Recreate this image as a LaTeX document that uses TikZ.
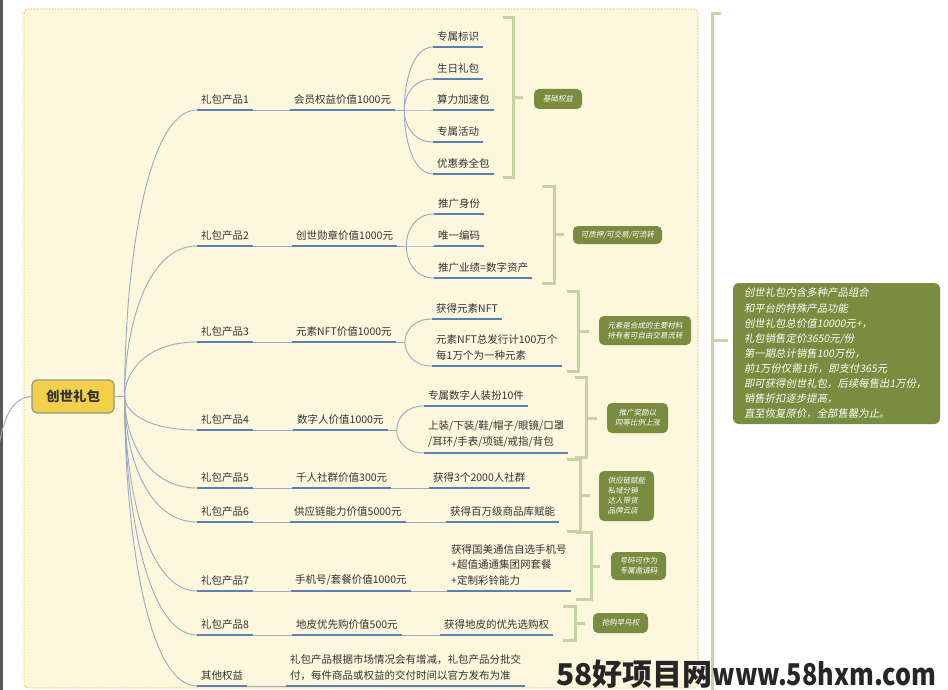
\documentclass[tikz,border=0pt]{standalone}
\usepackage{fontspec}
\usepackage{graphicx}
\setmainfont{Noto Sans CJK SC}
\newfontfamily\slfont{Noto Sans CJK SC}[FakeSlant=0.18]
\usetikzlibrary{calc}
\definecolor{cream}{HTML}{FCF7DD}
\definecolor{dotyel}{HTML}{EDD47E}
\definecolor{ulblue}{HTML}{5C7FB5}
\definecolor{connblue}{HTML}{9AAAC4}
\definecolor{brgreen}{HTML}{C6D3A6}
\definecolor{olive}{HTML}{7A8C3F}
\definecolor{rootgold}{HTML}{F3D04C}
\definecolor{rootedge}{HTML}{8E9A78}
\definecolor{txt}{HTML}{333333}
\newcommand\mmcurve[2]{\draw[conn] (#1) .. controls ($(#1)!0.45!(#1|-#2)$) and ($(#1|-#2)!0.3!(#2)$) .. (#2);}
\begin{document}
\begin{tikzpicture}[x=1pt,y=-1pt,
  lbl/.style={anchor=south west,inner xsep=4pt,inner ysep=5.5pt,text=txt,align=left,
    font=\fontsize{10.5}{15.5}\selectfont},
  ul/.style={draw=ulblue,line width=2.6pt},
  conn/.style={draw=connblue,line width=0.9pt},
  brk/.style={draw=brgreen,line width=3pt},
  gbox/.style={fill=olive,rounded corners=5pt,text=white,align=center,inner sep=2pt,
    font=\slfont\fontsize{7.5}{10}\selectfont},
]
\useasboundingbox (0,0) rectangle (948,690);
\fill[white] (0,0) rectangle (948,690);
\fill[gray!70!black] (0,0) rectangle (2.5,690);
% container
\draw[dotyel,fill=cream,line width=1.3pt,dash pattern=on 1.4pt off 1.6pt,rounded corners=4pt] (24,9) rectangle (698,688);

% root
\node[fill=rootgold,draw=rootedge,line width=1.2pt,rounded corners=5pt,minimum width=82pt,minimum height=33pt,
  text=txt,font=\bfseries\fontsize{13.5}{14}\selectfont] (root) at (73,396.5) {创世礼包};
\coordinate (lin) at (-2,452);
\draw[conn] (lin) .. controls (4,412) and (14,398) .. (root.west);
\draw[conn] (root.east) -- ++(10,0) coordinate (rf);

% level 1
\foreach \n/\y/\t in {p1/110/礼包产品1,p2/246/礼包产品2,p3/342/礼包产品3,p4/430/礼包产品4,
  p5/488/礼包产品5,p6/522/礼包产品6,p7/591/礼包产品7,p8/635/礼包产品8,p9/686/其他权益}
  {\node[lbl] (\n) at (197,\y) {\t};}

% level 2
\node[lbl] (v1) at (290,110) {会员权益价值1000元};
\node[lbl] (v2) at (292,246) {创世勋章价值1000元};
\node[lbl] (v3) at (292,342) {元素NFT价值1000元};
\node[lbl] (v4) at (293,430) {数字人价值1000元};
\node[lbl] (v5) at (292,488) {千人社群价值300元};
\node[lbl] (v6) at (290,522) {供应链能力价值5000元};
\node[lbl] (v7) at (291,591) {手机号/套餐价值1000元};
\node[lbl] (v8) at (292,635) {地皮优先购价值500元};
\node[lbl] (v9) at (286,686) {礼包产品根据市场情况会有增减，礼包产品分批交\\付，每件商品或权益的交付时间以官方发布为准};

% level 3
\node[lbl] (a1) at (433,47) {专属标识};
\node[lbl] (a2) at (433,79) {生日礼包};
\node[lbl] (a3) at (433,110) {算力加速包};
\node[lbl] (a4) at (433,142) {专属活动};
\node[lbl] (a5) at (433,174) {优惠券全包};
\node[lbl] (b1) at (434,214) {推广身份};
\node[lbl] (b2) at (434,246) {唯一编码};
\node[lbl] (b3) at (434,278) {推广业绩=数字资产};
\node[lbl] (c1) at (432,319) {获得元素NFT};
\node[lbl] (c2) at (432,366) {元素NFT总发行计100万个\\每1万个为一种元素};
\node[lbl] (d1) at (424,406) {专属数字人装扮10件};
\node[lbl] (d2) at (424,453) {上装/下装/鞋/帽子/眼镜/口罩\\/耳环/手表/项链/戒指/背包};
\node[lbl] (e1) at (429,488) {获得3个2000人社群};
\node[lbl] (g1) at (446,522) {获得百万级商品库赋能};
\node[lbl] (h1) at (447,591) {获得国美通信自选手机号\\+超值通通集团网套餐\\+定制彩铃能力};
\node[lbl] (k1) at (440,635) {获得地皮的优先选购权};

% connectors root -> level 1
\foreach \n in {p1,p2,p3,p4,p5,p6,p7,p8,p9} {\mmcurve{rf}{\n.south west}}
% level 1 -> level 2
\foreach \i in {1,...,9} {\draw[conn] (p\i.south east) -- (v\i.south west);}
% level 2 -> level 3
\draw[conn] (v1.south east) -- ++(9,0) coordinate (f1);
\foreach \n in {a1,a2,a3,a4,a5} {\mmcurve{f1}{\n.south west}}
\draw[conn] (v2.south east) -- ++(9,0) coordinate (f2);
\foreach \n in {b1,b2,b3} {\mmcurve{f2}{\n.south west}}
\draw[conn] (v3.south east) -- ++(9,0) coordinate (f3);
\foreach \n in {c1,c2} {\mmcurve{f3}{\n.south west}}
\draw[conn] (v4.south east) -- ++(9,0) coordinate (f4);
\foreach \n in {d1,d2} {\mmcurve{f4}{\n.south west}}
\draw[conn] (v5.south east) -- (e1.south west);
\draw[conn] (v6.south east) -- (g1.south west);
\draw[conn] (v7.south east) -- (h1.south west);
\draw[conn] (v8.south east) -- (k1.south west);

% underlines
\foreach \n in {p1,p2,p3,p4,p5,p6,p7,p8,p9,v1,v2,v3,v4,v5,v6,v7,v8,v9,
  a1,a2,a3,a4,a5,b1,b2,b3,c1,c2,d1,d2,e1,g1,h1,k1}
  {\draw[ul] (\n.south west) -- (\n.south east);}

% brackets
\draw[brk] (503,18) -- (513,18) -- (513,178) -- (503,178); \draw[brk] (513,98) -- (523,98);
\draw[brk] (542,186) -- (554,186) -- (554,283) -- (542,283); \draw[brk] (554,234) -- (564,234);
\draw[brk] (567,291) -- (578,291) -- (578,371) -- (567,371); \draw[brk] (578,331) -- (589,331);
\draw[brk] (575,377) -- (586,377) -- (586,457) -- (575,457); \draw[brk] (586,418) -- (597,418);
\draw[brk] (567,459) -- (580,459) -- (580,531) -- (567,531); \draw[brk] (580,495) -- (590,495);
\draw[brk] (576,532) -- (591,532) -- (591,599) -- (576,599); \draw[brk] (591,566) -- (600,566);
\draw[brk] (563,606) -- (575,606) -- (575,640) -- (563,640); \draw[brk] (575,623) -- (585,623);
\draw[brk] (721,14) -- (712,14) -- (712,692); \draw[brk] (712,340) -- (728,340);

% green labels
\node[gbox,minimum width=48pt,minimum height=20pt] (gb1) at (558,99) {基础权益};
\node[gbox,minimum width=89pt,minimum height=18pt] (gb2) at (617.5,235) {可质押/可交易/可流转};
\node[gbox,minimum width=92pt,minimum height=29pt] (gb3) at (645,330.5) {元素是合成的主要材料\\持有者可自由交易流转};
\node[gbox,minimum width=61pt,minimum height=30pt] (gb4) at (637.5,418) {推广奖励以\\同等比例上涨};
\node[gbox,minimum width=55pt,minimum height=50pt,align=left] (gb5) at (626.5,496) {供应链赋能\\私域分销\\达人带货\\品牌云店};
\node[gbox,minimum width=55pt,minimum height=28pt] (gb6) at (638.5,566) {号码可作为\\专属邀请码};
\node[gbox,minimum width=55pt,minimum height=20pt] (gb7) at (620.5,623) {抢购早鸟权};
\node[fill=olive,rounded corners=6pt,text=white,align=left,anchor=center,
  minimum width=207pt,minimum height=141pt,text width=185pt,inner xsep=11pt,
  font=\slfont\fontsize{10.4}{15.1}\selectfont] (summary) at (836.5,353.5)
  {创世礼包内含多种产品组合\\和平台的特殊产品功能\\创世礼包总价值10000元+，\\礼包销售定价3650元/份\\第一期总计销售100万份，\\前1万份仅需1折，即支付365元\\即可获得创世礼包，后续每售出1万份，\\销售折扣逐步提高，\\直至恢复原价，全部售罄为止。};

% watermark
\node[anchor=base west,inner sep=0pt,text=black!85,font=\bfseries\fontsize{30}{30}\selectfont] (wm) at (556,685) {58好项目网\scalebox{0.84}[1]{www.58hxm.com}};
\end{tikzpicture}
\end{document}
